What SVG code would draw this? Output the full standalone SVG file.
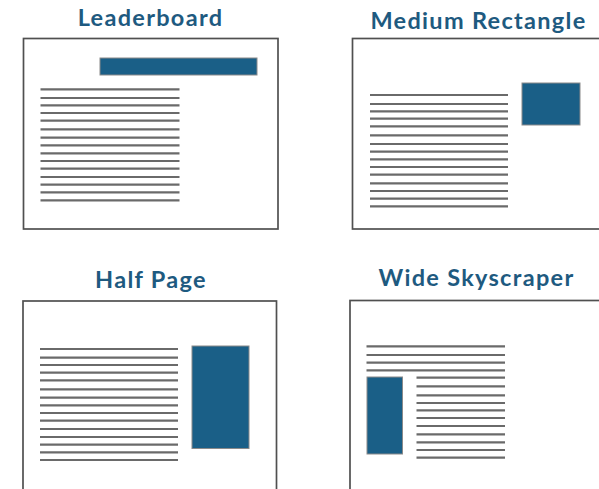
<svg xmlns="http://www.w3.org/2000/svg" width="599" height="489" viewBox="0 0 599 489">
  <style>
    .title { font-family: Lato, "Noto Sans", "Liberation Sans", sans-serif; font-weight: 700; font-size: 23.5px; letter-spacing: 1.3px; fill: #1e5a80; text-anchor: middle; }
    .page { fill: #ffffff; stroke: #505050; stroke-width: 1.7; }
    .ad { fill: #1a5f87; stroke: #8a8a8a; stroke-width: 1; }
    .txt { stroke: #6a6a6a; stroke-width: 2.2; }
  </style>
  <rect width="599" height="489" fill="#ffffff"/>

  <!-- Leaderboard -->
  <g id="leaderboard">
    <text class="title" x="150.5" y="26">Leaderboard</text>
    <rect class="page" x="23.5" y="38.5" width="254.5" height="190.5"/>
    <rect class="ad" x="100" y="58" width="157" height="17"/>
    <g class="txt">
      <line x1="40.5" x2="179.5" y1="89.3" y2="89.3"/>
      <line x1="40.5" x2="179.5" y1="98" y2="98"/>
      <line x1="40.5" x2="179.5" y1="105.3" y2="105.3"/>
      <line x1="40.5" x2="179.5" y1="113" y2="113"/>
      <line x1="40.5" x2="179.5" y1="120.7" y2="120.7"/>
      <line x1="40.5" x2="179.5" y1="129.3" y2="129.3"/>
      <line x1="40.5" x2="179.5" y1="137.7" y2="137.7"/>
      <line x1="40.5" x2="179.5" y1="145.3" y2="145.3"/>
      <line x1="40.5" x2="179.5" y1="153.3" y2="153.3"/>
      <line x1="40.5" x2="179.5" y1="161" y2="161"/>
      <line x1="40.5" x2="179.5" y1="168.7" y2="168.7"/>
      <line x1="40.5" x2="179.5" y1="177" y2="177"/>
      <line x1="40.5" x2="179.5" y1="184.7" y2="184.7"/>
      <line x1="40.5" x2="179.5" y1="192.3" y2="192.3"/>
      <line x1="40.5" x2="179.5" y1="200.3" y2="200.3"/>
    </g>
  </g>

  <!-- Medium Rectangle -->
  <g id="medium-rectangle">
    <text class="title" x="478.5" y="29">Medium Rectangle</text>
    <rect class="page" x="352.5" y="38.5" width="260" height="190.5"/>
    <rect class="ad" x="522" y="83" width="58" height="42"/>
    <g class="txt">
      <line x1="370" x2="508" y1="95" y2="95"/>
      <line x1="370" x2="508" y1="104" y2="104"/>
      <line x1="370" x2="508" y1="111.3" y2="111.3"/>
      <line x1="370" x2="508" y1="118.7" y2="118.7"/>
      <line x1="370" x2="508" y1="126.3" y2="126.3"/>
      <line x1="370" x2="508" y1="135.3" y2="135.3"/>
      <line x1="370" x2="508" y1="144" y2="144"/>
      <line x1="370" x2="508" y1="151.7" y2="151.7"/>
      <line x1="370" x2="508" y1="159.3" y2="159.3"/>
      <line x1="370" x2="508" y1="167" y2="167"/>
      <line x1="370" x2="508" y1="174.7" y2="174.7"/>
      <line x1="370" x2="508" y1="183.3" y2="183.3"/>
      <line x1="370" x2="508" y1="191" y2="191"/>
      <line x1="370" x2="508" y1="198.7" y2="198.7"/>
      <line x1="370" x2="508" y1="206.3" y2="206.3"/>
    </g>
  </g>

  <!-- Half Page -->
  <g id="half-page">
    <text class="title" x="151" y="287.5">Half Page</text>
    <rect class="page" x="23" y="301" width="253.5" height="200"/>
    <rect class="ad" x="192" y="346" width="57" height="102.5"/>
    <g class="txt">
      <line x1="40" x2="178" y1="349" y2="349"/>
      <line x1="40" x2="178" y1="357.7" y2="357.7"/>
      <line x1="40" x2="178" y1="365" y2="365"/>
      <line x1="40" x2="178" y1="372.7" y2="372.7"/>
      <line x1="40" x2="178" y1="380.3" y2="380.3"/>
      <line x1="40" x2="178" y1="389.3" y2="389.3"/>
      <line x1="40" x2="178" y1="397.7" y2="397.7"/>
      <line x1="40" x2="178" y1="405.3" y2="405.3"/>
      <line x1="40" x2="178" y1="413" y2="413"/>
      <line x1="40" x2="178" y1="420.7" y2="420.7"/>
      <line x1="40" x2="178" y1="429" y2="429"/>
      <line x1="40" x2="178" y1="437" y2="437"/>
      <line x1="40" x2="178" y1="444.7" y2="444.7"/>
      <line x1="40" x2="178" y1="452.3" y2="452.3"/>
      <line x1="40" x2="178" y1="460" y2="460"/>
    </g>
  </g>

  <!-- Wide Skyscraper -->
  <g id="wide-skyscraper">
    <text class="title" x="476.5" y="286">Wide Skyscraper</text>
    <rect class="page" x="350" y="300.5" width="260" height="200"/>
    <rect class="ad" x="367" y="377" width="35.5" height="77"/>
    <g class="txt">
      <line x1="366.5" x2="505" y1="346.3" y2="346.3"/>
      <line x1="366.5" x2="505" y1="355" y2="355"/>
      <line x1="366.5" x2="505" y1="362.7" y2="362.7"/>
      <line x1="366.5" x2="505" y1="370.3" y2="370.3"/>
      <line x1="416.5" x2="505" y1="377.7" y2="377.7"/>
      <line x1="416.5" x2="505" y1="386.3" y2="386.3"/>
      <line x1="416.5" x2="505" y1="395.3" y2="395.3"/>
      <line x1="416.5" x2="505" y1="403" y2="403"/>
      <line x1="416.5" x2="505" y1="410.3" y2="410.3"/>
      <line x1="416.5" x2="505" y1="418" y2="418"/>
      <line x1="416.5" x2="505" y1="426" y2="426"/>
      <line x1="416.5" x2="505" y1="434.3" y2="434.3"/>
      <line x1="416.5" x2="505" y1="442.3" y2="442.3"/>
      <line x1="416.5" x2="505" y1="450" y2="450"/>
      <line x1="416.5" x2="505" y1="457.7" y2="457.7"/>
    </g>
  </g>
</svg>
